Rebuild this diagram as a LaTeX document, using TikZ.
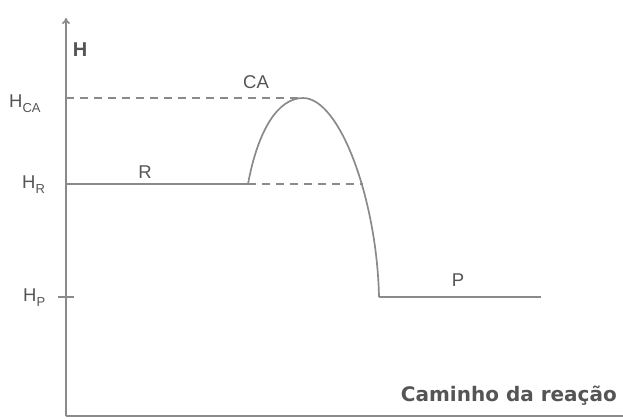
\documentclass[tikz,border=0pt]{standalone}
\usepackage{fontspec}
\setmainfont{Liberation Sans}
\newfontfamily\titlefont{DejaVu Sans}
\usetikzlibrary{arrows.meta}
\definecolor{linegray}{HTML}{8A8A8A}
\definecolor{textgray}{HTML}{555555}
\newcommand{\hsub}[1]{\raisebox{-5pt}{\fontsize{13}{13}\selectfont #1}}

\begin{document}
\begin{tikzpicture}[x=1pt, y=-1pt,
    curve/.style={linegray, line width=1.7pt},
    guide/.style={linegray, line width=1.7pt, dash pattern=on 8pt off 6pt},
    lbl/.style={textgray, inner sep=0pt, font=\fontsize{18.5}{18.5}\selectfont}]
  \useasboundingbox (0,0) rectangle (623,418);

  % axes
  \coordinate (origin) at (66,416);
  \coordinate (ytop) at (66,18);
  \coordinate (xend) at (623,416);
  \draw[curve, -{To[length=6pt, width=8pt]}] (origin) -- (ytop);
  \draw[curve] (origin) -- (xend);

  % levels on the axis
  \coordinate (hca) at (66,98);
  \coordinate (hr) at (66,184);
  \coordinate (hp) at (66,297);
  \draw[curve] ([xshift=-8pt]hp) -- ([xshift=8pt]hp);

  % path of the reaction
  \coordinate (rend) at (248,184);
  \coordinate (peak) at (303,98);
  \coordinate (rcross) at (363,184);
  \coordinate (pstart) at (379,297);
  \coordinate (pend) at (541,297);
  \draw[curve] (hr) -- (rend);
  \draw[curve] (rend) .. controls (258,130) and (278,98) .. (peak)
                      .. controls (340,98) and (377,200) .. (pstart);
  \draw[curve] (pstart) -- (pend);
  \draw[guide] (hca) -- (peak);
  \draw[guide] (rend) -- (rcross);

  % labels
  \node[lbl, font=\fontsize{20}{20}\selectfont\bfseries] (hlabel) at (80,50) {H};
  \node[lbl] (calabel) at (256,82) {CA};
  \node[lbl] (rlabel) at (145,172) {R};
  \node[lbl] (plabel) at (458,280) {P};
  \node[lbl, anchor=base west] (hcalabel) at (9,107) {H\hsub{CA}};
  \node[lbl, anchor=base west] (hrlabel) at (22,188) {H\hsub{R}};
  \node[lbl, anchor=base west] (hplabel) at (23,301) {H\hsub{P}};
  \node[textgray, inner sep=0pt, anchor=base east,
        font=\titlefont\fontsize{20}{20}\selectfont\bfseries] (xlabel) at (617,401) {Caminho da reação};
\end{tikzpicture}
\end{document}
